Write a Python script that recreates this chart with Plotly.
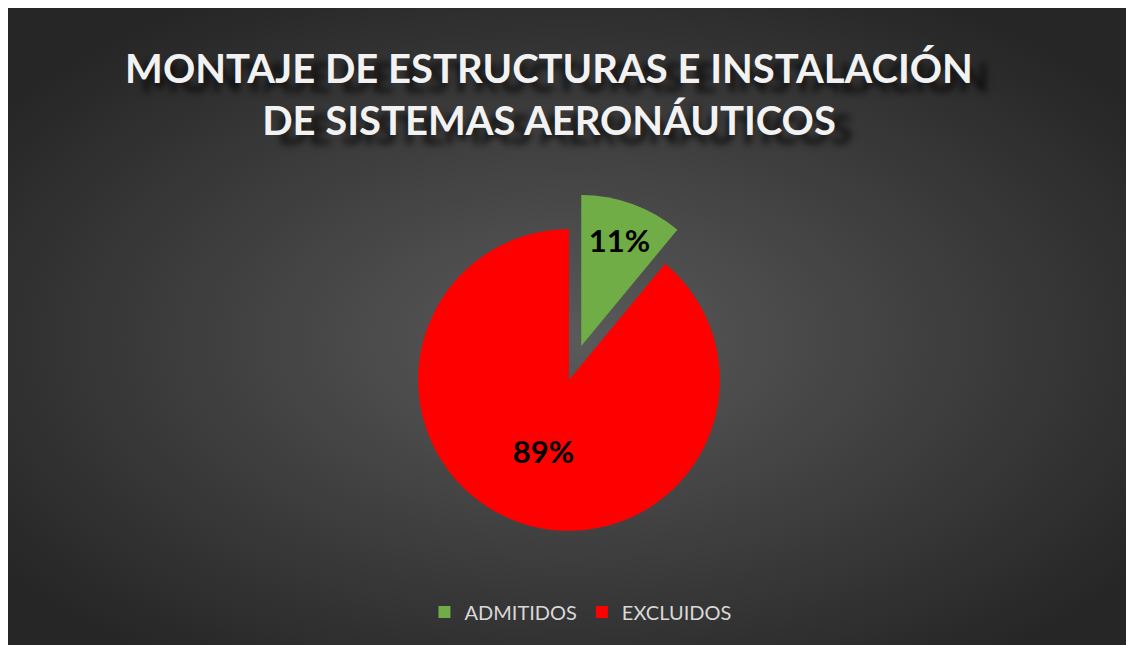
import base64
import plotly.graph_objects as go

# Datos del gráfico
categorias = ["ADMITIDOS", "EXCLUIDOS"]
valores = [11, 89]
colores = ["#70ad47", "#ff0000"]
titulo = "MONTAJE DE ESTRUCTURAS E INSTALACIÓN<br>DE SISTEMAS AERONÁUTICOS"

# la página deja 8px de margen blanco arriba y a la izquierda
W, H = 1126, 637

# Fondo con degradado radial (estilo Excel oscuro)
svg = f"""<svg xmlns="http://www.w3.org/2000/svg" width="{W}" height="{H}">
<defs><radialGradient id="g" cx="50%" cy="52%" r="62%">
<stop offset="0%" stop-color="#5a5a5a"/>
<stop offset="100%" stop-color="#262626"/>
</radialGradient></defs>
<rect width="{W}" height="{H}" fill="url(#g)"/></svg>"""
fondo = "data:image/svg+xml;base64," + base64.b64encode(svg.encode()).decode()

fig = go.Figure(go.Pie(
    labels=categorias,
    values=valores,
    marker=dict(colors=colores, line=dict(width=0)),
    sort=False,
    direction="clockwise",
    rotation=0,
    pull=[0.24, 0],
    texttemplate="%{percent:.0%}",
    textposition="inside",
    insidetextorientation="horizontal",
    textfont=dict(family="Lato", size=31, color="black", weight="bold"),
    hoverinfo="label+percent",
    domain=dict(x=[0.3321, 0.6643], y=[0.1224, 0.7096]),
))

fig.update_layout(
    width=W, height=H,
    margin=dict(l=0, r=0, t=0, b=0),
    paper_bgcolor="#262626",
    plot_bgcolor="rgba(0,0,0,0)",
    font=dict(family="Lato"),
    title=dict(
        text=titulo,
        x=541 / W, xanchor="center",
        y=1 - 75 / H, yanchor="top", yref="container",
        font=dict(family="Lato", size=40, color="#f2f2f2", weight="bold",
                  shadow="16px 9px 7px rgba(0,0,0,0.75)"),
    ),
    legend=dict(
        orientation="h",
        x=0.5084, xanchor="center",
        y=1 - 604 / H, yanchor="middle",
        font=dict(family="Lato", size=20, color="#d9d9d9"),
        bgcolor="rgba(0,0,0,0)",
        itemclick=False,
    ),
    images=[dict(
        source=fondo,
        xref="paper", yref="paper",
        x=0, y=1,
        sizex=1, sizey=1,
        xanchor="left", yanchor="top",
        sizing="stretch", layer="below",
    )],
)

fig.write_html("out.html", config=dict(displayModeBar=False))
